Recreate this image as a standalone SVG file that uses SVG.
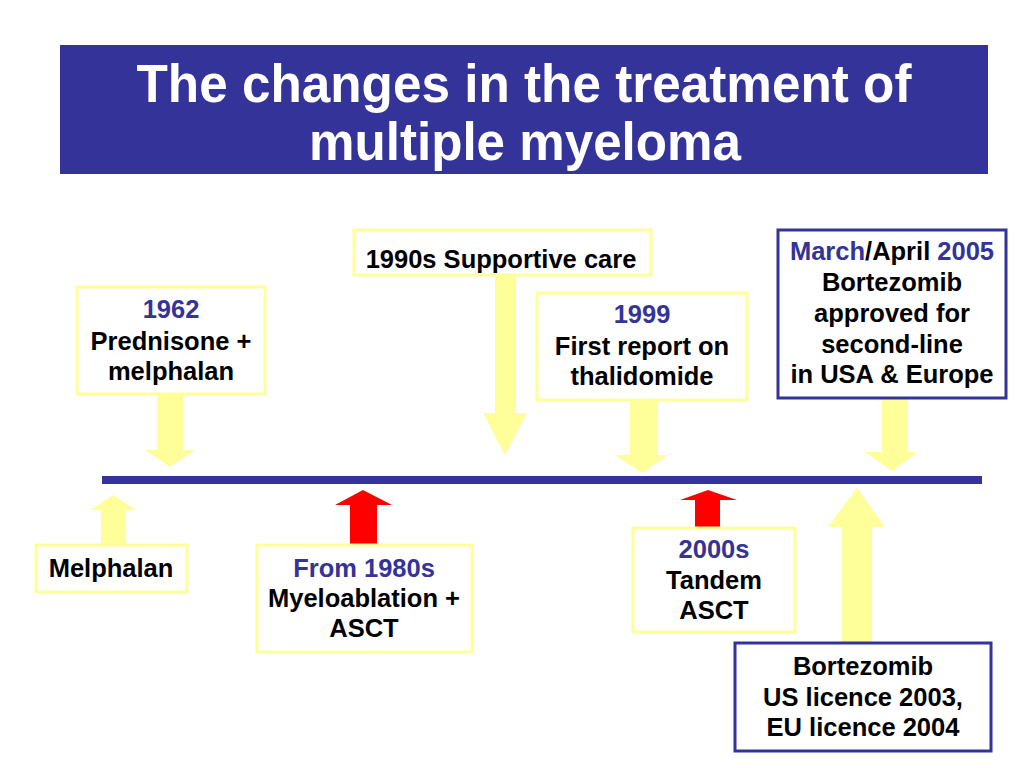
<svg xmlns="http://www.w3.org/2000/svg" width="1024" height="768" viewBox="0 0 1024 768">
<style>
.t{font-family:"Liberation Sans",Arial,sans-serif;font-weight:bold;font-size:25.5px;text-anchor:middle;fill:#000}
.b{fill:#333399}
.title{font-family:"Liberation Sans",Arial,sans-serif;font-weight:bold;font-size:54px;text-anchor:middle;fill:#fff}
.yb{fill:#fff;stroke:#ffff99;stroke-width:3}
.bb{fill:#fff;stroke:#333399;stroke-width:3}
.ya{fill:#ffff99}
.ra{fill:#ff0000}
</style>
<rect width="1024" height="768" fill="#fff"/>
<g id="title">
<rect x="60" y="45" width="928" height="129" fill="#333399"/>
<text class="title" x="524" y="102" textLength="775" lengthAdjust="spacingAndGlyphs">The changes in the treatment of</text>
<text class="title" x="525" y="160" textLength="432" lengthAdjust="spacingAndGlyphs">multiple myeloma</text>
</g>
<g id="timeline">
<rect x="102" y="476" width="880" height="8" fill="#333399"/>
</g>
<g id="connectors">
<polygon class="ya" points="157,395 183,395 183,450 195,450 170,467 145,450 157,450"/>
<polygon class="ya" points="495,275 516,275 516,413 527,413 505,455 483,413 495,413"/>
<polygon class="ya" points="630,400 657,400 657,455 668,455 642,473 615,455 630,455"/>
<polygon class="ya" points="882,398 907,398 907,452 918,452 892,471 865,452 882,452"/>
<polygon class="ya" points="101,545 125,545 125,510 136,510 113,495 90,510 101,510"/>
<polygon class="ra" points="350,545 377,545 377,505 392,505 363,490 335,505 350,505"/>
<polygon class="ra" points="695,528 720,528 720,500 737,500 708,490 680,500 695,500"/>
<polygon class="ya" points="842,643 872,643 872,527 885,527 857,488 828,527 842,527"/>
</g>
<g id="n1962">
<rect class="yb" x="77" y="287" width="188" height="107"/>
<text class="t b" x="171" y="318">1962</text>
<text class="t" x="171" y="350">Prednisone +</text>
<text class="t" x="171" y="380">melphalan</text>
</g>
<g id="n1990s">
<rect class="yb" x="354" y="230" width="297" height="45"/>
<text class="t" x="501" y="268">1990s Supportive care</text>
</g>
<g id="n1999">
<rect class="yb" x="537" y="293" width="210" height="107"/>
<text class="t b" x="642" y="323">1999</text>
<text class="t" x="642" y="355">First report on</text>
<text class="t" x="642" y="385">thalidomide</text>
</g>
<g id="n2005">
<rect class="bb" x="778" y="230" width="228" height="168"/>
<text class="t" x="892" y="260"><tspan class="b">March</tspan>/April <tspan class="b">2005</tspan></text>
<text class="t" x="892" y="291">Bortezomib</text>
<text class="t" x="892" y="322">approved for</text>
<text class="t" x="892" y="353">second-line</text>
<text class="t" x="892" y="383">in USA &amp; Europe</text>
</g>
<g id="nMelphalan">
<rect class="yb" x="36" y="545" width="151" height="47"/>
<text class="t" x="111" y="577">Melphalan</text>
</g>
<g id="n1980s">
<rect class="yb" x="257" y="545" width="215" height="107"/>
<text class="t b" x="364" y="577">From 1980s</text>
<text class="t" x="364" y="607">Myeloablation +</text>
<text class="t" x="364" y="637">ASCT</text>
</g>
<g id="n2000s">
<rect class="yb" x="633" y="528" width="162" height="104"/>
<text class="t b" x="714" y="558">2000s</text>
<text class="t" x="714" y="589">Tandem</text>
<text class="t" x="714" y="619">ASCT</text>
</g>
<g id="nBortezomib">
<rect class="bb" x="735" y="643" width="256" height="108"/>
<text class="t" x="863" y="675">Bortezomib</text>
<text class="t" x="863" y="706">US licence 2003,</text>
<text class="t" x="863" y="736">EU licence 2004</text>
</g>
</svg>
